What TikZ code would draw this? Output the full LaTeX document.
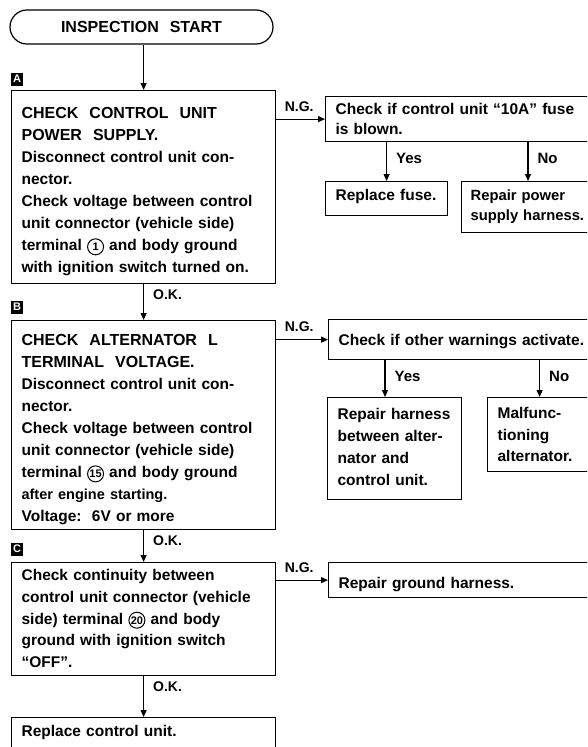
\documentclass[tikz,border=0pt]{standalone}
\usepackage{fontspec}
\setmainfont{Liberation Sans}
\usetikzlibrary{arrows.meta}

% wide spaced capitals of the step titles
\newcommand{\steptitle}[1]{{\fontsize{16}{22}\selectfont\spaceskip=11pt #1}}
% circled terminal number
\newcommand{\term}[1]{\tikz[baseline=(tn.base), x=1cm, y=1cm]
    \node[draw, circle, line width=1pt, minimum size=16pt, inner sep=0pt,
        font=\bfseries\fontsize{11}{11}\selectfont] (tn) {#1};}

\begin{document}
\begin{tikzpicture}[x=1pt, y=-1pt,
    box/.style n args={3}{draw, line width=1.2pt, anchor=north west, align=left,
        inner xsep=10pt, inner ysep=0pt, text width=#1, text height=#2, text depth=#3,
        font=\bfseries\fontsize{15.5}{22}\selectfont},
    startbox/.style={draw, line width=1.2pt, rounded corners=17pt, minimum width=263pt,
        minimum height=34pt, inner sep=0pt, font=\bfseries},
    stepmark/.style={fill=black, text=white, minimum width=12pt, minimum height=13pt,
        inner sep=0pt, font=\bfseries\fontsize{11}{11}\selectfont},
    flow/.style={line width=1.2pt, -{Triangle[length=7pt,width=6pt]}},
    oklbl/.style={anchor=north west, inner sep=0pt, xshift=9pt, yshift=-5pt,
        font=\bfseries\fontsize{14}{14}\selectfont},
    nglbl/.style={anchor=south west, inner sep=0pt, xshift=8pt, yshift=7pt,
        font=\bfseries\fontsize{14}{14}\selectfont},
    yeslbl/.style={anchor=north west, inner sep=0pt, xshift=9pt, yshift=-10pt,
        font=\bfseries\fontsize{15}{15}\selectfont}
]
    \useasboundingbox (0,0) rectangle (587,747);
    \clip (0,0) rectangle (587,747);

    % Start
    \node[startbox] (start) at (141.5,27) {\steptitle{INSPECTION START}};

    % Step A
    \node[stepmark] (markA) at (17,79) {A};
    \node[box={244pt}{28pt}{165pt}] (chkA) at (11,90) {\steptitle{CHECK CONTROL UNIT\\ POWER SUPPLY.}\\
        Disconnect control unit con-\\ nector.\\ Check voltage between control\\
        unit connector (vehicle side)\\ terminal \term{1} and body ground\\
        with ignition switch turned on.};
    \node[box={260pt}{18pt}{27pt}, font=\bfseries\fontsize{15.5}{20}\selectfont] (fuse) at (325,96)
        {Check if control unit “10A” fuse\\ is blown.};
    \node[box={102pt}{19pt}{15pt}] (replfuse) at (325,181) {Replace fuse.};
    \node[box={124pt}{19pt}{32pt}, inner xsep=9pt, font=\bfseries\fontsize{14.8}{20}\selectfont] (repairps) at (461,181)
        {Repair power\\ supply harness.};

    % Step B
    \node[stepmark] (markB) at (17,307) {B};
    \node[box={244pt}{25pt}{184pt}] (chkB) at (11,320) {\steptitle{CHECK ALTERNATOR L\\ TERMINAL VOLTAGE.}\\
        Disconnect control unit con-\\ nector.\\ Check voltage between control\\
        unit connector (vehicle side)\\ terminal \term{15} and body ground\\
        {\fontsize{14.5}{20}\selectfont after engine starting.}\\ Voltage:\ \ 6V or more};
    \node[box={250pt}{26pt}{14pt}] (warn) at (328,319) {Check if other warnings activate.};
    \node[box={114pt}{22pt}{80pt}] (repharn) at (327,397)
        {Repair harness\\ between alter-\\ nator and\\ control unit.};
    \node[box={84pt}{21pt}{53pt}, font=\bfseries\fontsize{15.5}{21.5}\selectfont] (malalt) at (487,397)
        {Malfunc-\\ tioning\\ alternator.};

    % Step C
    \node[stepmark] (markC) at (17,549) {C};
    \node[box={244pt}{18pt}{95pt}, font=\bfseries\fontsize{15.5}{21.7}\selectfont] (chkC) at (11,562)
        {Check continuity between\\ control unit connector (vehicle\\ side) terminal \term{20} and body\\
        ground with ignition switch\\ “OFF”.};
    \node[box={250pt}{26pt}{9pt}] (repgnd) at (328,562) {Repair ground harness.};
    \node[box={244pt}{19pt}{40pt}] (replcu) at (11,717) {Replace control unit.};

    % Connectors
    \coordinate (noAx) at (528,0);
    \coordinate (yesBx) at (385,0);
    \draw[flow] (start.south -| chkA.north) -- (chkA.north);
    \draw[flow] (chkA.east |- fuse.west) node[nglbl] (ngA) {N.G.} -- (fuse.west);
    \draw[flow] (fuse.south -| replfuse.north) node[yeslbl] (yesA) {Yes} -- (replfuse.north);
    \draw[flow] (fuse.south -| noAx) node[yeslbl] (noA) {No} -- (repairps.north -| noAx);
    \draw[flow] (chkA.south) node[oklbl] (okA) {O.K.} -- (chkB.north);
    \draw[flow] (chkB.east |- warn.west) node[nglbl] (ngB) {N.G.} -- (warn.west);
    \draw[flow] (warn.south -| yesBx) node[yeslbl] (yesB) {Yes} -- (repharn.north -| yesBx);
    \draw[flow] (warn.south -| malalt.north) node[yeslbl] (noB) {No} -- (malalt.north);
    \draw[flow] (chkB.south) node[oklbl] (okB) {O.K.} -- (chkC.north);
    \draw[flow] (chkC.east |- repgnd.west) node[nglbl] (ngC) {N.G.} -- (repgnd.west);
    \draw[flow] (chkC.south) node[oklbl] (okC) {O.K.} -- (replcu.north);
\end{tikzpicture}
\end{document}
